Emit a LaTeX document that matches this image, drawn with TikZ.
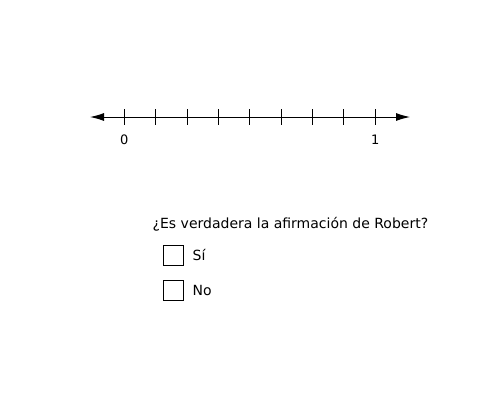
\documentclass[tikz,border=0pt]{standalone}
\usepackage{fontspec}
\setmainfont{DejaVu Sans}
\usetikzlibrary{arrows.meta}
\begin{document}
\begin{tikzpicture}[x=1pt,y=-1pt,
  axis/.style={line width=1pt,{Latex[length=14pt,width=8pt]}-{Latex[length=14pt,width=8pt]}},
  tickmark/.style={line width=1pt},
  lbl/.style={font=\fontsize{13}{15}\selectfont,inner sep=0pt},
  cbox/.style={draw,line width=1pt,minimum size=20pt,inner sep=0pt},
  txt/.style={font=\fontsize{14}{16}\selectfont,inner sep=0pt,anchor=west}]
\useasboundingbox (0,0) rectangle (500,410);
\coordinate (L) at (90,117);
\coordinate (R) at (410,117);
\draw[axis] (L) -- (R);
\foreach \i in {0,...,8} {
  \draw[tickmark] ({124.3+31.37*\i},109) -- ({124.3+31.37*\i},125);
}
\node[lbl] (zero) at (124.3,139.5) {0};
\node[lbl] (one) at (375.3,139.5) {1};
\node[txt] (q) at (152.5,224.5) {¿Es verdadera la afirmación de Robert?};
\node[cbox] (b1) at (173.5,255) {};
\node[cbox] (b2) at (173.5,290) {};
\node[txt] (si) at (192.5,255) {Sí};
\node[txt] (no) at (192.5,290) {No};
\end{tikzpicture}
\end{document}
